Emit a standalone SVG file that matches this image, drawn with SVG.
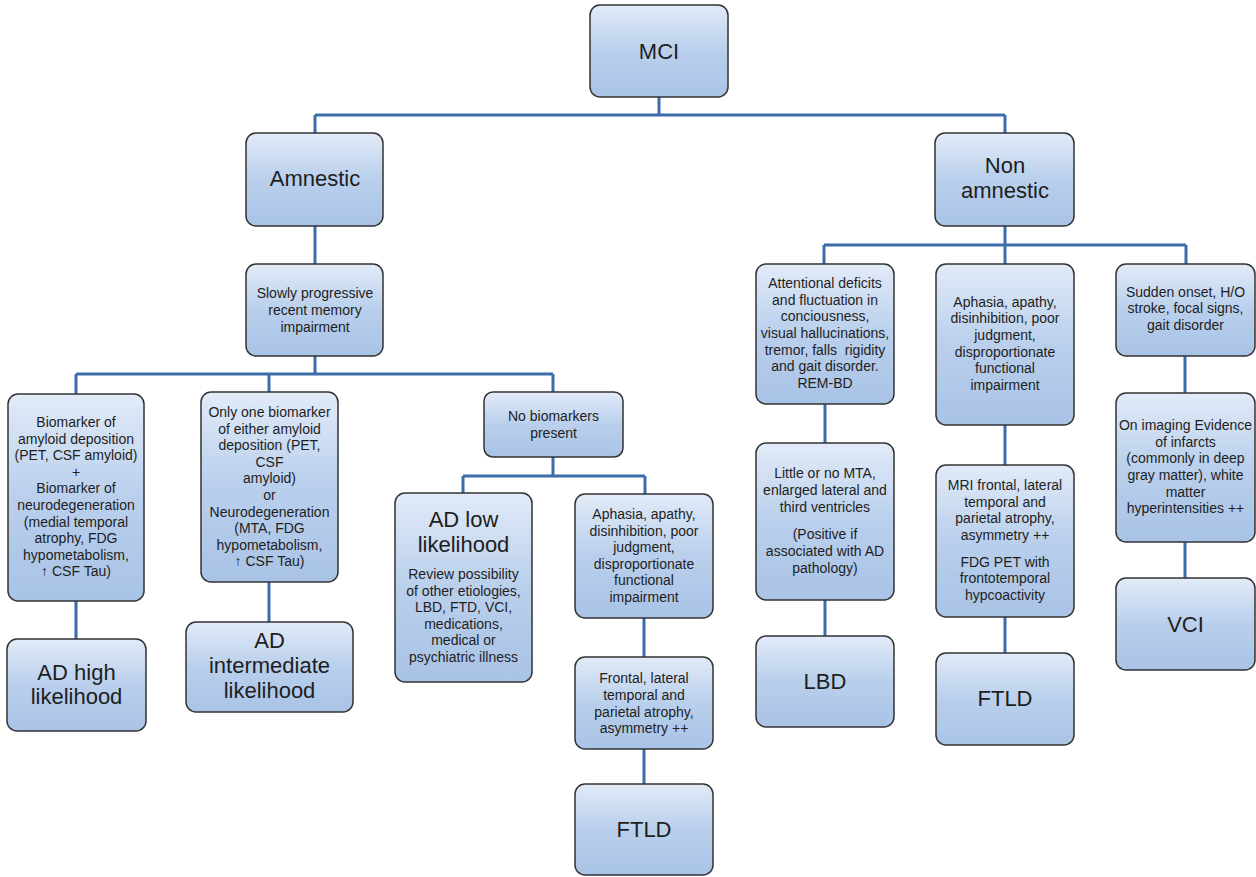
<svg xmlns="http://www.w3.org/2000/svg" width="1256" height="877" viewBox="0 0 1256 877">
<defs>
<linearGradient id="g" x1="0" y1="0" x2="0" y2="1">
<stop offset="0" stop-color="#e2ebf8"/>
<stop offset="0.5" stop-color="#b9cfec"/>
<stop offset="1" stop-color="#a9c3e6"/>
</linearGradient>
<style>
.b{fill:url(#g);stroke:#333;stroke-width:1.5}
text{font-family:"Liberation Sans",Arial,sans-serif;fill:#1e1e1e;text-anchor:middle}
.s{font-size:14px}
.l{font-size:22px}
.c{fill:none;stroke:#3b6dab;stroke-width:3}
</style>
</defs>
<rect width="1256" height="877" fill="#fff"/>
<g id="connectors" class="c">
<path d="M659 97V115M315 115H1005M315 115V133M1005 115V133"/>
<path d="M315 226V264M315 356V374M76 374H553M76 374V394M269 374V392M553 374V392"/>
<path d="M76 601V639M269 582V622"/>
<path d="M553 457V476M463 476H645M463 476V493M645 476V494M644 618V657M644 749V784"/>
<path d="M1005 226V245M824 245H1186M824 245V264M1005 245V264M1186 245V264"/>
<path d="M825 404V443M825 600V636M1005 425V465M1005 617V653M1185 356V393M1185 542V578"/>
</g>
<g id="mci"><rect class="b" x="590" y="5" width="138" height="92" rx="10"/><text class="l" x="659" y="59">MCI</text></g>
<g id="amnestic"><rect class="b" x="246" y="133" width="137" height="93" rx="10"/><text class="l" x="315" y="186">Amnestic</text></g>
<g id="nonamnestic"><rect class="b" x="935" y="133" width="139" height="93" rx="10"/><text class="l" x="1005" y="173">Non</text><text class="l" x="1005" y="198">amnestic</text></g>
<g id="slowly"><rect class="b" x="246" y="264" width="137" height="92" rx="10"/>
<text class="s" x="315" y="298">Slowly progressive</text><text class="s" x="315" y="315">recent memory</text><text class="s" x="315" y="332">impairment</text></g>
<g id="biomarker"><rect class="b" x="8" y="394" width="136" height="207" rx="10"/>
<text class="s" x="76" y="427">Biomarker of</text><text class="s" x="76" y="443.6">amyloid deposition</text><text class="s" x="76" y="460.2">(PET, CSF amyloid)</text><text class="s" x="76" y="476.8">+</text><text class="s" x="76" y="493.4">Biomarker of</text><text class="s" x="76" y="510">neurodegeneration</text><text class="s" x="76" y="526.6">(medial temporal</text><text class="s" x="76" y="543.2">atrophy, FDG</text><text class="s" x="76" y="559.8">hypometabolism,</text><text class="s" x="76" y="576.4">↑ CSF Tau)</text></g>
<g id="onlyone"><rect class="b" x="201" y="392" width="137" height="190" rx="10"/>
<text class="s" x="269.5" y="417">Only one biomarker</text><text class="s" x="269.5" y="433.6">of either amyloid</text><text class="s" x="269.5" y="450.2">deposition (PET,</text><text class="s" x="269.5" y="466.8">CSF</text><text class="s" x="269.5" y="483.4">amyloid)</text><text class="s" x="269.5" y="500">or</text><text class="s" x="269.5" y="516.6">Neurodegeneration</text><text class="s" x="269.5" y="533.2">(MTA, FDG</text><text class="s" x="269.5" y="549.8">hypometabolism,</text><text class="s" x="269.5" y="566.4">↑ CSF Tau)</text></g>
<g id="nobiomarkers"><rect class="b" x="484" y="392" width="139" height="65" rx="9"/>
<text class="s" x="553.5" y="421">No biomarkers</text><text class="s" x="553.5" y="437.5">present</text></g>
<g id="adhigh"><rect class="b" x="7" y="639" width="139" height="92" rx="10"/><text class="l" x="76.5" y="680">AD high</text><text class="l" x="76.5" y="704">likelihood</text></g>
<g id="adinter"><rect class="b" x="186" y="622" width="167" height="90" rx="10"/><text class="l" x="269.5" y="648">AD</text><text class="l" x="269.5" y="673">intermediate</text><text class="l" x="269.5" y="698">likelihood</text></g>
<g id="adlow"><rect class="b" x="395" y="493" width="137" height="189" rx="10"/>
<text class="l" x="463.5" y="527">AD low</text><text class="l" x="463.5" y="552">likelihood</text>
<text class="s" x="463.5" y="579">Review possibility</text><text class="s" x="463.5" y="595.5">of other etiologies,</text><text class="s" x="463.5" y="612">LBD, FTD, VCI,</text><text class="s" x="463.5" y="628.5">medications,</text><text class="s" x="463.5" y="645">medical or</text><text class="s" x="463.5" y="661.5">psychiatric illness</text></g>
<g id="aphasia1"><rect class="b" x="575" y="494" width="138" height="124" rx="10"/>
<text class="s" x="644" y="519">Aphasia, apathy,</text><text class="s" x="644" y="535.5">disinhibition, poor</text><text class="s" x="644" y="552">judgment,</text><text class="s" x="644" y="568.5">disproportionate</text><text class="s" x="644" y="585">functional</text><text class="s" x="644" y="601.5">impairment</text></g>
<g id="frontal1"><rect class="b" x="575" y="657" width="138" height="92" rx="10"/>
<text class="s" x="644" y="683">Frontal, lateral</text><text class="s" x="644" y="700">temporal and</text><text class="s" x="644" y="716.5">parietal atrophy,</text><text class="s" x="644" y="733">asymmetry ++</text></g>
<g id="ftld1"><rect class="b" x="575" y="784" width="138" height="91" rx="10"/><text class="l" x="644" y="837">FTLD</text></g>
<g id="attentional"><rect class="b" x="756" y="264" width="138" height="140" rx="10"/>
<text class="s" x="825" y="288">Attentional deficits</text><text class="s" x="825" y="304.7">and fluctuation in</text><text class="s" x="825" y="321.3">conciousness,</text><text class="s" x="825" y="338">visual hallucinations,</text><text class="s" x="825" y="354.7" xml:space="preserve">tremor, falls  rigidity</text><text class="s" x="825" y="371.3">and gait disorder.</text><text class="s" x="825" y="388">REM-BD</text></g>
<g id="littlemta"><rect class="b" x="756" y="443" width="138" height="157" rx="10"/>
<text class="s" x="825" y="478">Little or no MTA,</text><text class="s" x="825" y="495">enlarged lateral and</text><text class="s" x="825" y="511.5">third ventricles</text><text class="s" x="825" y="539">(Positive if</text><text class="s" x="825" y="556">associated with AD</text><text class="s" x="825" y="572.5">pathology)</text></g>
<g id="lbd"><rect class="b" x="756" y="636" width="138" height="91" rx="10"/><text class="l" x="825" y="689">LBD</text></g>
<g id="aphasia2"><rect class="b" x="936" y="264" width="138" height="161" rx="10"/>
<text class="s" x="1005" y="306.5">Aphasia, apathy,</text><text class="s" x="1005" y="323">disinhibition, poor</text><text class="s" x="1005" y="339.5">judgment,</text><text class="s" x="1005" y="356.5">disproportionate</text><text class="s" x="1005" y="373">functional</text><text class="s" x="1005" y="390">impairment</text></g>
<g id="mri"><rect class="b" x="936" y="465" width="138" height="152" rx="10"/>
<text class="s" x="1005" y="490">MRI frontal, lateral</text><text class="s" x="1005" y="506.7">temporal and</text><text class="s" x="1005" y="523.3">parietal atrophy,</text><text class="s" x="1005" y="540">asymmetry ++</text><text class="s" x="1005" y="566.7">FDG PET with</text><text class="s" x="1005" y="583.3">frontotemporal</text><text class="s" x="1005" y="600">hypcoactivity</text></g>
<g id="ftld2"><rect class="b" x="936" y="653" width="138" height="92" rx="10"/><text class="l" x="1005" y="706">FTLD</text></g>
<g id="sudden"><rect class="b" x="1116" y="264" width="139" height="92" rx="10"/>
<text class="s" x="1185.5" y="296.5">Sudden onset, H/O</text><text class="s" x="1185.5" y="313.3">stroke, focal signs,</text><text class="s" x="1185.5" y="330">gait disorder</text></g>
<g id="imaging"><rect class="b" x="1116" y="393" width="139" height="149" rx="10"/>
<text class="s" x="1185.5" y="430">On imaging Evidence</text><text class="s" x="1185.5" y="446.7">of infarcts</text><text class="s" x="1185.5" y="463.3">(commonly in deep</text><text class="s" x="1185.5" y="480">gray matter), white</text><text class="s" x="1185.5" y="496.7">matter</text><text class="s" x="1185.5" y="513.3">hyperintensities ++</text></g>
<g id="vci"><rect class="b" x="1116" y="578" width="139" height="92" rx="10"/><text class="l" x="1185.5" y="632">VCI</text></g>
</svg>
